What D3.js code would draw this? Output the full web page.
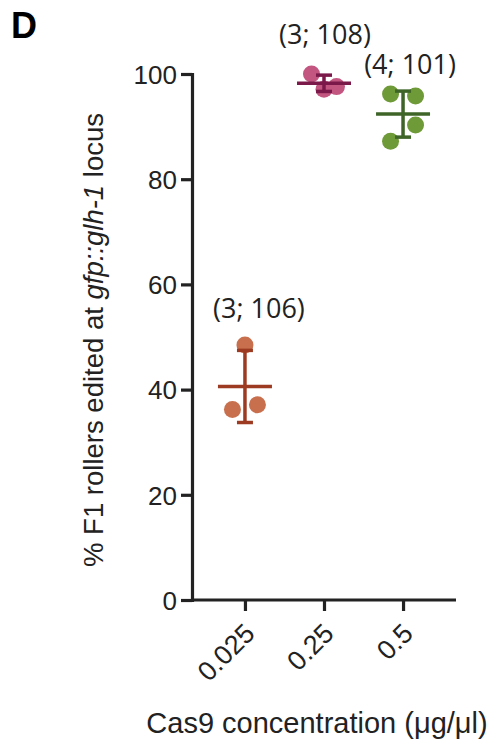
<!DOCTYPE html>
<html>
<head>
<meta charset="utf-8">
<script src="https://cdn.jsdelivr.net/npm/d3@7"></script>
<style>
  body { margin: 0; background: #fff; }
  text { font-family: "Liberation Sans", Arial, sans-serif; fill: #222; }
</style>
</head>
<body>
<script>
// Categories (Cas9 concentration, ug/ul)
var concentrations = ["0.025", "0.25", "0.5"];
// % F1 rollers edited, one value per replicate (listed left to right in each row)
var editedLow = [48.5, 36.2, 37.1];
var editedMid = [100, 97.1, 97.6];
var editedHigh = [96.2, 95.8, 87.2, 90.3];
// (replicates; animals) labels
var nLabels = ["(3; 106)", "(3; 108)", "(4; 101)"];
// where the label sits, in % units
var labelLevels = [53.7, 105.7, 100];
var yTicks = [0, 20, 40, 60, 80, 100];

var pointColors = ["#c8704e", "#c25680", "#6f9a38"];
var barColors = ["#9c3b22", "#7b1a4a", "#3e6428"];

var groups = [editedLow, editedMid, editedHigh];

var width = 492, height = 740;
var svg = d3.select("body").append("svg")
  .attr("width", width)
  .attr("height", height);

var x = d3.scalePoint()
  .domain(concentrations)
  .range([192, 456])
  .padding(0.67);

var y = d3.scaleLinear()
  .domain([0, 100])
  .range([600, 74]);

// panel letter
svg.append("text")
  .attr("x", 11)
  .attr("y", 38)
  .style("font-size", "36px")
  .style("font-weight", "bold")
  .style("fill", "#000")
  .text("D");

// y axis
var yAxis = svg.append("g")
  .attr("transform", "translate(192,0)")
  .call(d3.axisLeft(y).tickValues(yTicks).tickSize(11).tickPadding(4));
yAxis.selectAll("text").style("font-size", "26px").attr("dy", "0.36em");

// x axis
var xAxis = svg.append("g")
  .attr("transform", "translate(0,600)")
  .call(d3.axisBottom(x).tickSize(11).tickSizeOuter(0));
xAxis.select(".domain").attr("d", "M192,0H456");
xAxis.selectAll("text")
  .style("font-size", "27px")
  .style("text-anchor", "end")
  .attr("x", 0)
  .attr("y", 0)
  .attr("dy", 0)
  .attr("transform", "translate(11,35) rotate(-45)");

svg.selectAll(".domain, .tick line")
  .style("stroke", "#222")
  .style("stroke-width", 3.2);

// axis titles
svg.append("text")
  .attr("x", 317)
  .attr("y", 733)
  .attr("text-anchor", "middle")
  .style("font-size", "29px")
  .text("Cas9 concentration (\u03bcg/\u03bcl)");

var yTitle = svg.append("text")
  .attr("transform", "translate(103,340) rotate(-90)")
  .attr("text-anchor", "middle")
  .style("font-size", "27.5px");
yTitle.append("tspan").text("% F1 rollers edited at ");
yTitle.append("tspan").style("font-style", "italic").text("gfp::glh-1");
yTitle.append("tspan").text(" locus");

// simple swarm: values close in height share a row, spread over a fixed width
var r = 8.5;
function swarm(values) {
  var ys = values.map(function (v) { return y(v); });
  var order = d3.range(values.length).sort(function (a, b) { return ys[a] - ys[b]; });
  var rows = [];
  order.forEach(function (i) {
    var last = rows[rows.length - 1];
    if (last && ys[i] - ys[last[last.length - 1]] < 2 * r + 4) last.push(i);
    else rows.push([i]);
  });
  var off = new Array(values.length).fill(0);
  rows.forEach(function (row) {
    row.sort(function (a, b) { return a - b; });
    if (row.length > 1) {
      row.forEach(function (i, k) { off[i] = -12.5 + 25 * k / (row.length - 1); });
    }
  });
  return off;
}

var labelShift = [14, 1, 7];

groups.forEach(function (values, g) {
  var cx = x(concentrations[g]);
  var offs = swarm(values);
  var m = d3.mean(values), sd = d3.deviation(values);
  var grp = svg.append("g");

  grp.selectAll("circle")
    .data(values)
    .enter().append("circle")
    .attr("cx", function (d, i) { return cx + offs[i]; })
    .attr("cy", function (d) { return y(d); })
    .attr("r", r)
    .attr("fill", pointColors[g]);

  var segs = [
    [cx - 27, y(m), cx + 27, y(m)],
    [cx, y(m - sd), cx, y(m + sd)],
    [cx - 8, y(m + sd), cx + 8, y(m + sd)],
    [cx - 8, y(m - sd), cx + 8, y(m - sd)]
  ];
  grp.selectAll("line")
    .data(segs)
    .enter().append("line")
    .attr("x1", function (s) { return s[0]; })
    .attr("y1", function (s) { return s[1]; })
    .attr("x2", function (s) { return s[2]; })
    .attr("y2", function (s) { return s[3]; })
    .style("stroke", barColors[g])
    .style("stroke-width", 3.5);

  svg.append("text")
    .attr("x", cx + labelShift[g])
    .attr("y", y(labelLevels[g]))
    .attr("text-anchor", "middle")
    .style("font-family", "'Open Sans', 'Noto Sans', sans-serif")
    .style("font-size", "27px")
    .text(nLabels[g]);
});
</script>
</body>
</html>
